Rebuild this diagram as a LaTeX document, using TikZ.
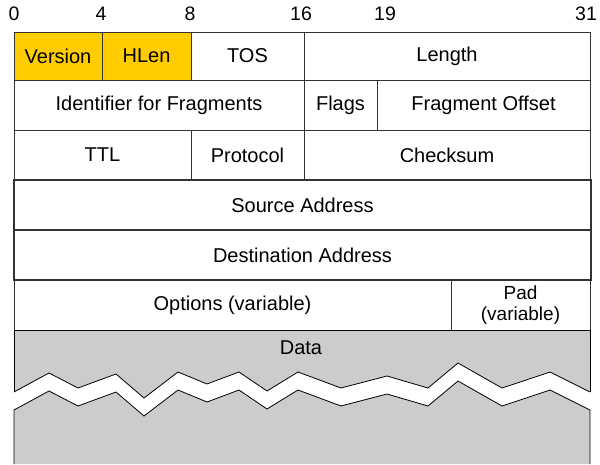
\documentclass[tikz,border=0pt]{standalone}
\usepackage{fontspec}
\setmainfont{Liberation Sans}
\definecolor{hdryellow}{HTML}{FFCC00}
\definecolor{datagray}{HTML}{CCCCCC}
\definecolor{edge}{HTML}{333333}
\begin{document}
\begin{tikzpicture}[x=1pt,y=-1pt,
  field/.style={draw=edge, line width=0.9pt, inner sep=0pt, outer sep=0pt,
    font=\fontsize{20}{22}\selectfont, text=black, align=center},
  bitno/.style={font=\fontsize{19.5}{21}\selectfont, inner sep=0pt},
  zig/.style={draw=black, line width=0.8pt}]
\useasboundingbox (0,0) rectangle (600,464);
% bit numbers
\node[bitno] (b0)  at (14,14)  {0};
\node[bitno] (b4)  at (101,14) {4};
\node[bitno] (b8)  at (190,14) {8};
\node[bitno] (b16) at (301,14) {16};
\node[bitno] (b19) at (385,14) {19};
\node[bitno] (b31) at (586,14) {31};
% row 1
\node[field, fill=hdryellow, minimum width=88pt, minimum height=48pt] (ver) at (58,56) {Version};
\node[field, fill=hdryellow, minimum width=89pt, minimum height=48pt] (hlen) at (146.5,56) {HLen};
\node[field, minimum width=113pt, minimum height=48pt] (tos) at (247.5,56) {TOS};
\node[field, minimum width=286pt, minimum height=48pt] (len) at (447,56) {Length};
% row 2
\node[field, minimum width=290pt, minimum height=50pt] (ident) at (159,105) {Identifier for Fragments};
\node[field, minimum width=73pt, minimum height=50pt] (flags) at (340.5,105) {Flags};
\node[field, minimum width=213pt, minimum height=50pt] (frag) at (483.5,105) {Fragment Offset};
% row 3
\node[field, minimum width=177pt, minimum height=50pt] (ttl) at (102.5,155) {TTL};
\node[field, minimum width=113pt, minimum height=50pt] (proto) at (247.5,155) {Protocol};
\node[field, minimum width=286pt, minimum height=50pt] (chk) at (447,155) {Checksum};
% rows 4-5
\node[field, line width=1.3pt, minimum width=577pt, minimum height=50pt] (src) at (302.5,205) {Source Address};
\node[field, line width=1.3pt, minimum width=577pt, minimum height=50pt] (dst) at (302.5,255) {Destination Address};
% row 6
\node[field, minimum width=437pt, minimum height=50pt] (opt) at (232.5,305) {Options (variable)};
\node[field, minimum width=139pt, minimum height=50pt, font=\fontsize{19}{21.5}\selectfont] (pad) at (520.5,305) {Pad\\(variable)};
% data area
\fill[datagray] (14,330) -- (590,330) -- (590,392) -- (550,372) -- (502,388) -- (458,363) -- (428,388)
  -- (387,376) -- (341,388) -- (298,372) -- (267,391) -- (239,372) -- (207,384) -- (178,372)
  -- (144,398) -- (116,374) -- (78,388) -- (49,373) -- (14,392) -- cycle;
\fill[datagray] (14,464) -- (14,410) -- (49,391) -- (78,406) -- (116,392) -- (144,416) -- (178,390)
  -- (207,402) -- (239,390) -- (267,409) -- (298,390) -- (341,406) -- (387,394) -- (428,406)
  -- (458,381) -- (502,406) -- (550,390) -- (590,410) -- (590,464) -- cycle;
\draw[zig] (14,392) -- (14,330) -- (590,330) -- (590,392);
\draw[zig] (14,392) -- (49,373) -- (78,388) -- (116,374) -- (144,398) -- (178,372) -- (207,384)
  -- (239,372) -- (267,391) -- (298,372) -- (341,388) -- (387,376) -- (428,388) -- (458,363)
  -- (502,388) -- (550,372) -- (590,392);
\draw[zig] (14,464) -- (14,410) -- (49,391) -- (78,406) -- (116,392) -- (144,416) -- (178,390)
  -- (207,402) -- (239,390) -- (267,409) -- (298,390) -- (341,406) -- (387,394) -- (428,406)
  -- (458,381) -- (502,406) -- (550,390) -- (590,410) -- (590,464);
\node[font=\fontsize{20}{22}\selectfont, inner sep=0pt] (data) at (301,348) {Data};
\end{tikzpicture}
\end{document}
